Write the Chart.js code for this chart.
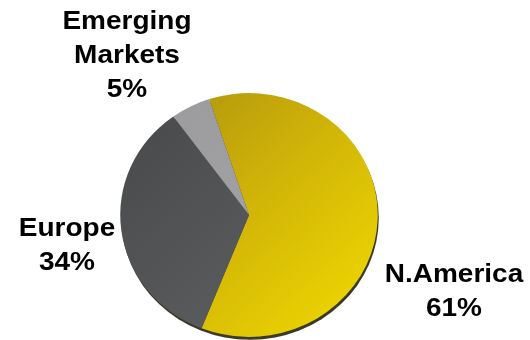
<!DOCTYPE html>
<html>
<head>
<meta charset="utf-8">
<script src="https://cdn.jsdelivr.net/npm/chart.js@4"></script>
<style>
  html, body { margin: 0; padding: 0; background: #fff; }
</style>
</head>
<body>
<canvas id="pieChart" width="530" height="340"></canvas>
<script>
const regions = ['N.America', 'Europe', 'Emerging\nMarkets'];
const shares = [61, 34, 5];

// label placement relative to the pie centre (dx, dy in px)
const labelOffsets = [[205, 77], [-182, 31], [-122, -159]];

function sliceFill(ctx) {
  const chart = ctx.chart;
  const area = chart.chartArea;
  if (!area) return '#888';
  const c = chart.ctx;
  const g = c.createLinearGradient(area.left, area.top, area.right, area.bottom);
  if (ctx.dataIndex === 0) {
    g.addColorStop(0, '#a88e10');
    g.addColorStop(0.45, '#cfb208');
    g.addColorStop(1, '#f2dc00');
  } else if (ctx.dataIndex === 1) {
    g.addColorStop(0, '#47484a');
    g.addColorStop(1, '#636466');
  } else {
    g.addColorStop(0, '#9b9b9d');
    g.addColorStop(1, '#a6a6a8');
  }
  return g;
}

// squash the pie a little and put a dark rim under it for a slight 3d feel
const SX = 1.03, SY = 0.975;
const rimPlugin = {
  id: 'rim',
  beforeDatasetsDraw(chart) {
    const arc = chart.getDatasetMeta(0).data[0];
    if (!arc) return;
    const c = chart.ctx;
    c.save();
    c.translate(arc.x, arc.y);
    c.scale(SX, SY);
    c.translate(-arc.x, -arc.y);
    c.save();
    c.fillStyle = '#3b3a2a';
    c.beginPath();
    c.arc(arc.x + 1, arc.y + 3, arc.outerRadius, 0, Math.PI * 2);
    c.fill();
    c.restore();
  },
  afterDatasetsDraw(chart) {
    chart.ctx.restore();
  }
};

// wide, slightly flattened bold labels
const labelPlugin = {
  id: 'sliceLabels',
  afterDatasetsDraw(chart) {
    const arc = chart.getDatasetMeta(0).data[0];
    const c = chart.ctx;
    const lh = 34;
    regions.forEach((name, i) => {
      const lines = name.split('\n').concat([shares[i] + '%']);
      const cx = arc.x + labelOffsets[i][0];
      const cy = arc.y + labelOffsets[i][1];
      c.save();
      c.translate(cx, cy);
      c.scale(1, 0.9);
      c.font = 'bold 28px "Liberation Sans", Arial, sans-serif';
      c.fillStyle = '#000';
      c.textAlign = 'center';
      c.textBaseline = 'middle';
      const y0 = -(lines.length - 1) * lh / 2;
      lines.forEach((t, k) => c.fillText(t, 0, (y0 + k * lh) / 0.9));
      c.restore();
    });
  }
};

new Chart(document.getElementById('pieChart'), {
  type: 'pie',
  data: {
    labels: regions,
    datasets: [{
      data: shares,
      backgroundColor: sliceFill,
      borderWidth: 0
    }]
  },
  options: {
    responsive: false,
    animation: false,
    rotation: -18,
    layout: { padding: { left: 124, right: 156, top: 90, bottom: 0 } },
    plugins: {
      legend: { display: false },
      tooltip: { enabled: false }
    }
  },
  plugins: [rimPlugin, labelPlugin]
});
</script>
</body>
</html>
